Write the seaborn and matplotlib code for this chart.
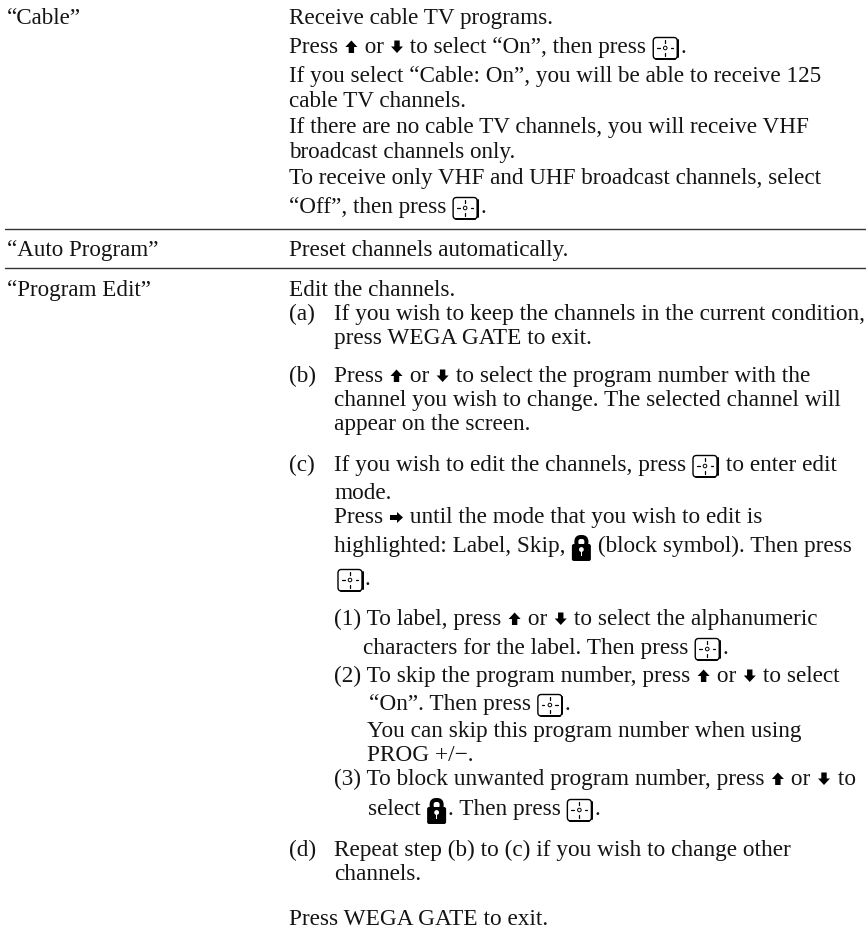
import re
import matplotlib
matplotlib.use('Agg')
import matplotlib.pyplot as plt
import seaborn as sns
from matplotlib.patches import FancyBboxPatch, Polygon, Circle, Rectangle

# page text, one entry per printed line: (left x, baseline y, text)
# {up} {down} {right} {enter} {lock} stand for the little symbols
left_labels = [(7, 24, '“Cable”'), (7, 256, '“Auto Program”'), (7, 296, '“Program Edit”')]

cable_lines = [
    (289, 24, 'Receive cable TV programs.'),
    (289, 53, 'Press {up} or {down} to select “On”, then press {enter}.'),
    (289, 82, 'If you select “Cable: On”, you will be able to receive 125'),
    (289, 107, 'cable TV channels.'),
    (289, 133, 'If there are no cable TV channels, you will receive VHF'),
    (289, 158, 'broadcast channels only.'),
    (289, 184, 'To receive only VHF and UHF broadcast channels, select'),
    (289, 213, '“Off”, then press {enter}.'),
]
auto_lines = [(289, 256, 'Preset channels automatically.')]
edit_lines = [
    (289, 296, 'Edit the channels.'),
    (289, 320, '(a)'),
    (334, 320, 'If you wish to keep the channels in the current condition,'),
    (334, 344, 'press WEGA GATE to exit.'),
    (289, 382, '(b)'),
    (334, 382, 'Press {up} or {down} to select the program number with the'),
    (334, 406, 'channel you wish to change. The selected channel will'),
    (334, 430, 'appear on the screen.'),
    (289, 471, '(c)'),
    (334, 471, 'If you wish to edit the channels, press {enter} to enter edit'),
    (334, 499, 'mode.'),
    (334, 523, 'Press {right} until the mode that you wish to edit is'),
    (334, 552, 'highlighted: Label, Skip, {lock} (block symbol). Then press'),
    (337, 585, '{enter}.'),
    (334, 625, '(1) To label, press {up} or {down} to select the alphanumeric'),
    (363, 654, 'characters for the label. Then press {enter}.'),
    (334, 682, '(2) To skip the program number, press {up} or {down} to select'),
    (369, 710, '“On”. Then press {enter}.'),
    (367, 737, 'You can skip this program number when using'),
    (367, 761, 'PROG +/−.'),
    (334, 785, '(3) To block unwanted program number, press {up} or {down} to'),
    (368, 815, 'select {lock}. Then press {enter}.'),
    (289, 856, '(d)'),
    (334, 856, 'Repeat step (b) to (c) if you wish to change other'),
    (334, 880, 'channels.'),
    (289, 925, 'Press WEGA GATE to exit.'),
]
rule_y = [229, 268]

ink = '#141414'
label_size = 16.6
cable_size = 16.7
edit_size = 16.75

sns.set_theme(style='white')
plt.rcParams['font.family'] = ['Liberation Serif', 'DejaVu Serif']

fig, ax = plt.subplots(figsize=(8.66, 9.3), dpi=100)
fig.subplots_adjust(0, 0, 1, 1)
ax.axis('off')

for y in rule_y:
    sns.lineplot(x=[5, 866], y=[y, y], ax=ax, color='#333333', linewidth=1.0)
ax.set_xlim(0, 866)
ax.set_ylim(930, 0)


def draw_arrow(x, base, kind):
    # block arrows, same look as the manual's glyphs
    if kind == 'up':
        pts = [(0, -12.5), (6, -6), (2.7, -6), (2.7, 0), (-2.7, 0), (-2.7, -6), (-6, -6)]
    elif kind == 'down':
        pts = [(0, 0), (6, -6.5), (2.7, -6.5), (2.7, -12.5), (-2.7, -12.5), (-2.7, -6.5), (-6, -6.5)]
    else:
        pts = [(6.5, -5.5), (0.5, 0), (0.5, -3), (-6.5, -3), (-6.5, -8), (0.5, -8), (0.5, -11)]
    ax.add_patch(Polygon([(x + 7.5 + a, base + b) for a, b in pts], closed=True, fc='black', ec='none'))
    return 15


def draw_enter(x, base):
    # rounded box with a heavier right/bottom edge and a dashed cross
    box = FancyBboxPatch((x + 1, base - 15.5), 24, 21.5, boxstyle='round,pad=0,rounding_size=3.5',
                         fc='white', ec='black', lw=1.0)
    ax.add_patch(box)
    ax.plot([x + 25.5, x + 25.5], [base - 13, base + 4], color='black', lw=1.4)
    ax.plot([x + 4, x + 23], [base + 6.3, base + 6.3], color='black', lw=1.4)
    cx, cy = x + 13, base - 5
    ax.plot([cx - 8, cx - 5.5], [cy, cy], color='black', lw=0.9)
    ax.plot([cx + 5.5, cx + 8], [cy, cy], color='black', lw=0.9)
    ax.plot([cx, cx], [cy - 8, cy - 5], color='black', lw=0.9)
    ax.plot([cx, cx], [cy + 5, cy + 8], color='black', lw=0.9)
    ax.add_patch(Circle((cx, cy), 1.8, fc='white', ec='black', lw=0.7))
    return 28


def draw_lock(x, base):
    ax.add_patch(FancyBboxPatch((x + 5, base - 15), 10, 10, boxstyle='round,pad=0,rounding_size=4.5',
                                fc='none', ec='black', lw=2.9))
    ax.add_patch(FancyBboxPatch((x + 0.5, base - 8), 19, 17, boxstyle='round,pad=0,rounding_size=2',
                                fc='black', ec='none'))
    ax.add_patch(Circle((x + 10, base - 2.5), 2.4, fc='white', ec='none'))
    ax.add_patch(Rectangle((x + 9.2, base - 2.5), 1.6, 6.5, fc='white', ec='none'))
    return 21


def put_line(x, base, line, size):
    renderer = fig.canvas.get_renderer()
    for part in re.split(r'(\{\w+\})', line):
        if not part:
            continue
        if part in ('{up}', '{down}', '{right}'):
            x += draw_arrow(x, base, part[1:-1])
        elif part == '{enter}':
            x += draw_enter(x, base)
        elif part == '{lock}':
            x += draw_lock(x, base)
        else:
            t = ax.text(x, base, part, fontsize=size, color=ink, va='baseline', ha='left')
            x += t.get_window_extent(renderer).width


for lines, size in [(left_labels, label_size), (cable_lines, cable_size),
                    (auto_lines, cable_size), (edit_lines, edit_size)]:
    for x, y, s in lines:
        put_line(x, y, s, size)

fig.savefig('out.png', dpi=100, facecolor='white')
